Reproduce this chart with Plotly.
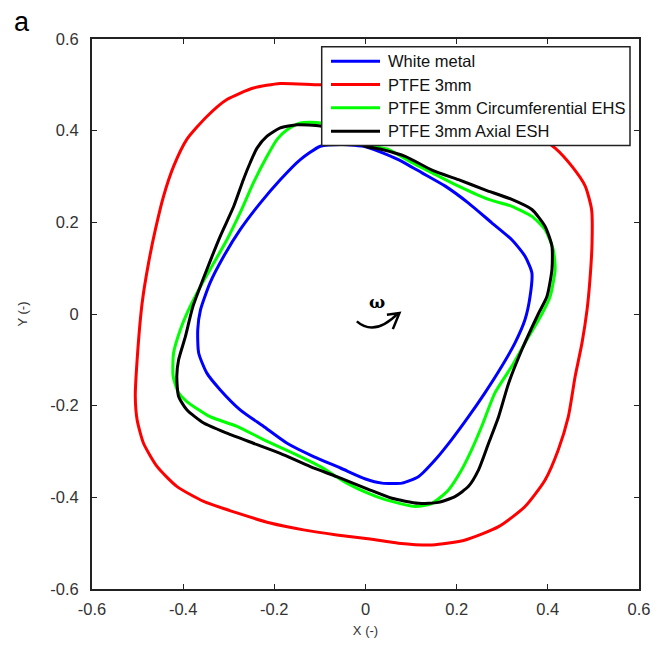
import plotly.graph_objects as go

# Orbit traces (dimensionless X, Y), closed loops
blue_x = [-0.099, -0.143, -0.187, -0.231, -0.275, -0.311, -0.341, -0.362, -0.368, -0.366,
          -0.348, -0.319, -0.275, -0.224, -0.172, -0.114, -0.055, 0.000, 0.036, 0.080,
          0.116, 0.153, 0.189, 0.226, 0.262, 0.299, 0.328, 0.350, 0.361, 0.365,
          0.350, 0.321, 0.277, 0.226, 0.175, 0.124, 0.072, 0.029, 0.000, -0.050, -0.099]
blue_y = [0.366, 0.337, 0.293, 0.242, 0.184, 0.126, 0.068, 0.009, -0.034, -0.085,
          -0.129, -0.165, -0.209, -0.245, -0.282, -0.311, -0.336, -0.360, -0.369, -0.369,
          -0.355, -0.318, -0.274, -0.224, -0.172, -0.114, -0.063, -0.012, 0.038, 0.090,
          0.126, 0.162, 0.199, 0.242, 0.279, 0.308, 0.337, 0.355, 0.365, 0.370, 0.366]

red_x = [-0.099, -0.187, -0.246, -0.304, -0.348, -0.392, -0.421, -0.443, -0.461, -0.476,
         -0.490, -0.501, -0.505, -0.501, -0.487, -0.457, -0.414, -0.355, -0.282, -0.209,
         -0.136, -0.063, 0.010, 0.072, 0.146, 0.219, 0.292, 0.350, 0.394, 0.423,
         0.445, 0.460, 0.475, 0.486, 0.492, 0.497, 0.496, 0.482, 0.453, 0.416,
         0.360, 0.290, 0.200, 0.100, 0.000, -0.099]
red_y = [0.500, 0.503, 0.493, 0.468, 0.431, 0.381, 0.322, 0.257, 0.184, 0.111,
         0.024, -0.100, -0.180, -0.231, -0.282, -0.333, -0.376, -0.409, -0.434, -0.456,
         -0.471, -0.482, -0.491, -0.500, -0.504, -0.493, -0.464, -0.420, -0.362, -0.296,
         -0.224, -0.136, -0.063, 0.009, 0.070, 0.155, 0.228, 0.279, 0.322, 0.362,
         0.400, 0.440, 0.475, 0.495, 0.502, 0.500]

green_x = [-0.099, -0.143, -0.172, -0.194, -0.216, -0.246, -0.275, -0.304, -0.333, -0.362,
           -0.390, -0.406, -0.421, -0.422, -0.410, -0.392, -0.341, -0.282, -0.224, -0.158,
           -0.099, -0.041, 0.005, 0.043, 0.109, 0.146, 0.182, 0.211, 0.233, 0.255,
           0.284, 0.321, 0.350, 0.387, 0.405, 0.416, 0.412, 0.394, 0.365, 0.321,
           0.270, 0.204, 0.146, 0.102, 0.050, 0.014, -0.040, -0.099]
green_y = [0.417, 0.417, 0.402, 0.381, 0.344, 0.286, 0.221, 0.162, 0.111, 0.060,
           0.005, -0.034, -0.085, -0.136, -0.172, -0.191, -0.224, -0.245, -0.274, -0.304,
           -0.333, -0.369, -0.391, -0.405, -0.420, -0.413, -0.384, -0.340, -0.296, -0.245,
           -0.172, -0.114, -0.063, 0.000, 0.038, 0.097, 0.140, 0.184, 0.213, 0.235,
           0.250, 0.279, 0.308, 0.330, 0.359, 0.366, 0.395, 0.417]

black_x = [-0.099, -0.150, -0.187, -0.216, -0.238, -0.253, -0.268, -0.289, -0.319, -0.348,
           -0.379, -0.395, -0.410, -0.414, -0.410, -0.392, -0.355, -0.304, -0.246, -0.187,
           -0.121, -0.063, 0.005, 0.058, 0.116, 0.160, 0.197, 0.226, 0.248, 0.270,
           0.292, 0.314, 0.343, 0.379, 0.398, 0.409, 0.409, 0.394, 0.365, 0.321,
           0.262, 0.204, 0.146, 0.087, 0.036, 0.000, -0.050, -0.099]
black_y = [0.410, 0.413, 0.406, 0.388, 0.362, 0.330, 0.293, 0.235, 0.169, 0.097,
           0.015, -0.049, -0.100, -0.136, -0.180, -0.209, -0.238, -0.260, -0.282, -0.304,
           -0.333, -0.355, -0.382, -0.402, -0.413, -0.411, -0.398, -0.376, -0.340, -0.282,
           -0.224, -0.151, -0.078, 0.000, 0.038, 0.097, 0.148, 0.191, 0.228, 0.250,
           0.271, 0.293, 0.314, 0.344, 0.359, 0.366, 0.390, 0.410]

series_names = ["White metal", "PTFE 3mm", "PTFE 3mm Circumferential EHS", "PTFE 3mm Axial ESH"]
series_x = [blue_x, red_x, green_x, black_x]
series_y = [blue_y, red_y, green_y, black_y]
series_colors = ["#0000ff", "#ff0000", "#00ff00", "#000000"]

tick_vals = [-0.6, -0.4, -0.2, 0.0, 0.2, 0.4, 0.6]
tick_text = ["-0.6", "-0.4", "-0.2", "0", "0.2", "0.4", "0.6"]

FONT = "Liberation Sans, Arial, sans-serif"

fig = go.Figure()
for name, xs, ys, col in zip(series_names, series_x, series_y, series_colors):
    fig.add_trace(go.Scatter(
        x=xs, y=ys, mode="lines", name=name, showlegend=False,
        line=dict(color=col, width=3, shape="spline", smoothing=0.6),
    ))

axis_common = dict(
    range=[-0.6, 0.6], tickvals=tick_vals, ticktext=tick_text,
    ticks="inside", ticklen=5, tickwidth=1.2, tickcolor="#222",
    showline=True, linecolor="#222", linewidth=2, mirror="ticks",
    showgrid=False, zeroline=False,
    tickfont=dict(family=FONT, size=16.5, color="#333"),
)

fig.update_layout(
    width=664, height=653,
    margin=dict(l=92, r=25, t=39, b=64),
    paper_bgcolor="white", plot_bgcolor="white",
    xaxis=dict(**axis_common, ticklabelstandoff=4,
               title=dict(text="X (-)", font=dict(family=FONT, size=13, color="#333"), standoff=9)),
    yaxis=dict(**axis_common, ticklabelstandoff=8,
               title=dict(text="Y (-)", font=dict(family=FONT, size=13, color="#333"), standoff=20)),
    showlegend=False,
)

# Legend box drawn in plot pixels -> paper coordinates
PL, PW, PB, PH = 92, 547, 589.5, 550
def px(v):
    return (v - PL) / PW
def py(v):
    return (PB - v) / PH

fig.add_shape(type="rect", xref="paper", yref="paper", layer="above",
              x0=px(321.7), x1=px(630), y0=py(146), y1=py(47.3),
              fillcolor="white", line=dict(color="#222", width=1.5))
row_y = [61.7, 85.0, 108.3, 131.7]
for name, col, ry in zip(series_names, series_colors, row_y):
    fig.add_shape(type="line", xref="paper", yref="paper", layer="above",
                  x0=px(331), x1=px(380), y0=py(ry), y1=py(ry),
                  line=dict(color=col, width=3))
    fig.add_annotation(x=px(386), y=py(ry), xref="paper", yref="paper",
                       xanchor="left", yanchor="middle", text=name, showarrow=False,
                       font=dict(family=FONT, size=16.5, color="#111"))

# Rotation direction marker
fig.add_shape(type="path", xref="x", yref="y",
              path="M -0.019,-0.016 Q 0.020,-0.050 0.072,0.002",
              line=dict(color="black", width=2.5))
fig.add_shape(type="path", xref="x", yref="y",
              path="M 0.047,-0.0015 L 0.0745,0.0022 L 0.060,-0.033",
              line=dict(color="black", width=2.5))
fig.add_annotation(x=0.025, y=0.026, xref="x", yref="y", text="<b>ω</b>",
                   showarrow=False, font=dict(family="DejaVu Serif, serif", size=17, color="black"))

# Panel letter
fig.add_annotation(x=px(22), y=py(22), xref="paper", yref="paper", text="a", showarrow=False,
                   xanchor="center", yanchor="middle",
                   font=dict(family=FONT, size=27, color="black"))

fig.write_html("out.html")
